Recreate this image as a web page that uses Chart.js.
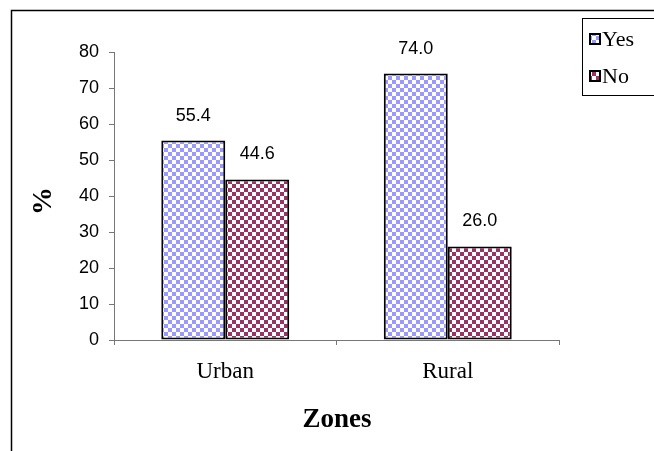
<!DOCTYPE html>
<html>
<head>
<meta charset="utf-8">
<script src="https://cdn.jsdelivr.net/npm/chart.js@4/dist/chart.umd.min.js"></script>
<style>
    html, body { margin: 0; padding: 0; background: #fff; }
    canvas { display: block; }
</style>
</head>
<body>
<canvas id="zoneChart" width="654" height="451"></canvas>
<script>
const zones = ['Urban', 'Rural'];
const seriesNames = ['Yes', 'No'];
const yesValues = [55.4, 74.0];
const noValues = [44.6, 26.0];
const yMin = 0;
const yMax = 80;
const yStep = 10;

const serif = '"Liberation Serif", "Times New Roman", serif';
const sans = '"Liberation Sans", Arial, sans-serif';
const axisColor = '#777';

// Small checkerboard fill like the old office hatch patterns
function makeChecker(color) {
    const c = document.createElement('canvas');
    c.width = 8;
    c.height = 8;
    const g = c.getContext('2d');
    g.fillStyle = '#fff';
    g.fillRect(0, 0, 8, 8);
    g.fillStyle = color;
    g.fillRect(0, 0, 4, 4);
    g.fillRect(4, 4, 4, 4);
    return document.getElementById('zoneChart').getContext('2d').createPattern(c, 'repeat');
}

const yesFill = makeChecker('#9999ff');
const noFill = makeChecker('#993366');

// Frame, axis titles, legend box and value labels
const decorations = {
    id: 'decorations',
    afterDatasetsDraw(chart) {
        const ctx = chart.ctx;
        ctx.save();
        ctx.fillStyle = '#000';
        ctx.font = '18px ' + sans;
        ctx.textAlign = 'center';
        ctx.textBaseline = 'middle';
        chart.data.datasets.forEach((ds, i) => {
            chart.getDatasetMeta(i).data.forEach((bar, j) => {
                ctx.fillText(ds.data[j].toFixed(1), bar.x, bar.y - 25);
            });
        });
        ctx.restore();
    },
    afterDraw(chart) {
        const ctx = chart.ctx;
        ctx.save();

        // outer frame (top and left edges only)
        ctx.strokeStyle = '#000';
        ctx.lineWidth = 1.5;
        ctx.beginPath();
        ctx.moveTo(11.5, 451);
        ctx.lineTo(11.5, 10.5);
        ctx.lineTo(654, 10.5);
        ctx.stroke();

        // axis titles
        ctx.fillStyle = '#000';
        ctx.textAlign = 'center';
        ctx.textBaseline = 'middle';
        ctx.font = 'bold 27px ' + serif;
        ctx.fillText('Zones', 337, 420);

        ctx.save();
        ctx.translate(44, 201);
        ctx.rotate(-Math.PI / 2);
        ctx.font = 'bold 28px ' + serif;
        ctx.fillText('%', 0, 0);
        ctx.restore();

        // legend
        ctx.lineWidth = 1;
        ctx.strokeRect(582.5, 18.5, 90, 77);
        const fills = [yesFill, noFill];
        const rows = [39, 76];
        ctx.font = '22px ' + serif;
        ctx.textAlign = 'left';
        seriesNames.forEach((name, i) => {
            const y = rows[i];
            ctx.fillStyle = fills[i];
            ctx.fillRect(590, y - 5, 10, 10);
            ctx.lineWidth = 2;
            ctx.strokeStyle = '#000';
            ctx.strokeRect(590, y - 5, 10, 10);
            ctx.fillStyle = '#000';
            ctx.fillText(name, 602, y + 1);
        });

        ctx.restore();
    }
};

new Chart(document.getElementById('zoneChart'), {
    type: 'bar',
    data: {
        labels: zones,
        datasets: [
            {
                label: seriesNames[0],
                data: yesValues,
                backgroundColor: yesFill,
                borderColor: '#000',
                borderWidth: 2,
                borderSkipped: false
            },
            {
                label: seriesNames[1],
                data: noValues,
                backgroundColor: noFill,
                borderColor: '#000',
                borderWidth: 2,
                borderSkipped: false
            }
        ]
    },
    options: {
        responsive: false,
        animation: false,
        devicePixelRatio: 1,
        layout: {
            padding: { top: 52, right: 95, left: 0, bottom: 0 }
        },
        datasets: {
            bar: {
                categoryPercentage: 0.575,
                barPercentage: 1
            }
        },
        plugins: {
            legend: { display: false },
            tooltip: { enabled: false }
        },
        scales: {
            x: {
                afterFit(scale) { scale.height = 111; },
                grid: {
                    drawOnChartArea: false,
                    color: axisColor,
                    tickLength: 5
                },
                border: { color: axisColor, width: 1 },
                ticks: {
                    color: '#000',
                    padding: 13,
                    font: { family: serif, size: 23 }
                }
            },
            y: {
                min: yMin,
                max: yMax,
                afterFit(scale) { scale.width = 114; },
                grid: {
                    drawOnChartArea: false,
                    color: axisColor,
                    tickLength: 5
                },
                border: { color: axisColor, width: 1 },
                ticks: {
                    stepSize: yStep,
                    color: '#000',
                    padding: 10,
                    font: { family: sans, size: 18 }
                }
            }
        }
    },
    plugins: [decorations]
});
</script>
</body>
</html>
